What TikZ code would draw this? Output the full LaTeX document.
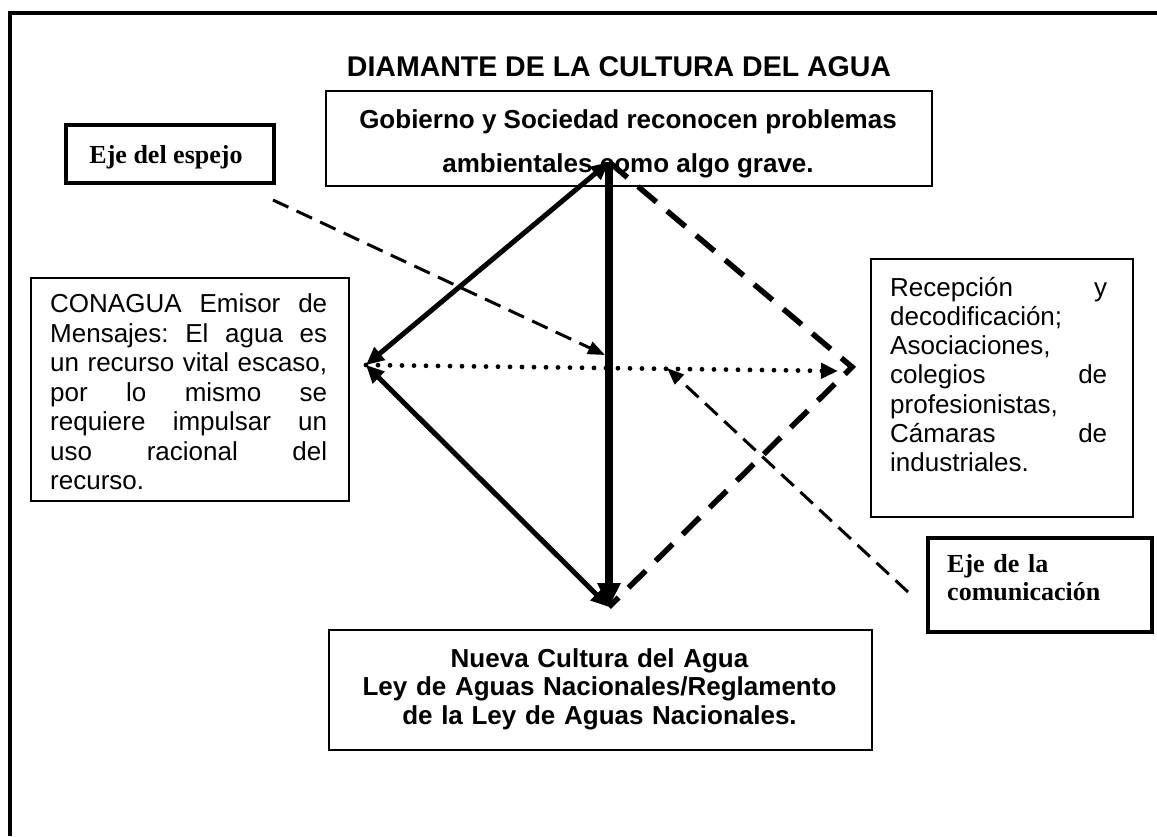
\documentclass[tikz,border=0pt]{standalone}
\usepackage{fontspec}
\setmainfont{Liberation Sans}
\newfontfamily\tnrfont{Liberation Serif}
\usetikzlibrary{arrows.meta}
\newcommand{\jsp}{\hspace{0.28em plus 1fill}}
\tikzset{
  thinbox/.style={draw, line width=1.6pt, inner sep=0pt},
  ejebox/.style={draw, line width=3.8pt, inner sep=0pt},
  bodytext/.style={font=\fontsize{26}{29.5}\selectfont, inner sep=0pt, align=left},
  boldtext/.style={font=\bfseries\fontsize{26}{28.5}\selectfont, inner sep=0pt},
  ejetext/.style={font=\tnrfont\bfseries\fontsize{26}{28}\selectfont, inner sep=0pt, align=left},
  solidarrow/.style={line width=5pt, {Triangle[length=18pt,width=16pt]}-{Triangle[length=18pt,width=16pt]}},
  mainshaft/.style={line width=7.5pt, -{Triangle[length=24pt,width=22pt]}},
  bigdash/.style={line width=5.5pt, dash pattern=on 24pt off 14pt},
  dotline/.style={line width=4.8pt, dash pattern=on 0pt off 12pt, line cap=round, -{Triangle[length=17pt,width=15pt]}},
  thindash/.style={line width=3pt, dash pattern=on 17pt off 9pt, -{Triangle[length=17pt,width=13pt]}}
}
\begin{document}
\begin{tikzpicture}[x=1pt,y=-1pt]
\useasboundingbox (0,0) rectangle (1157,836);
% outer frame
\draw[line width=4.5pt] (10,836) -- (10,13) -- (1157,13);
% title
\node[font=\bfseries\fontsize{28.5}{32}\selectfont, inner sep=0pt, anchor=base] (title) at (619,76) {DIAMANTE DE LA CULTURA DEL AGUA};
% top box
\node[thinbox, minimum width=606pt, minimum height=95pt, anchor=north west] (topbox) at (325,90) {};
\node[boldtext, anchor=base] (toptextA) at (628,128) {Gobierno y Sociedad reconocen problemas};
\node[boldtext, anchor=base] (toptextB) at (628,172) {ambientales como algo grave.};
% eje del espejo
\node[ejebox, minimum width=208pt, minimum height=58pt] (espejo) at (170,154) {};
\node[ejetext, anchor=base] (espejotext) at (166,163) {Eje del espejo};
% CONAGUA box
\node[thinbox, line width=2pt, minimum width=318pt, minimum height=223pt, anchor=north west] (conabox) at (30,277) {};
\node[bodytext, text width=277pt, anchor=north west] (conatext) at (50,292) {\strut CONAGUA\jsp Emisor\jsp de\\
Mensajes:\jsp El\jsp agua\jsp es\\
un\jsp recurso\jsp vital\jsp escaso,\\
por\jsp lo\jsp mismo\jsp se\\
requiere\jsp impulsar\jsp un\\
uso\jsp racional\jsp del\\
recurso.};
% right box
\node[thinbox, line width=2pt, minimum width=262pt, minimum height=258pt, anchor=north west] (recbox) at (870,258) {};
\node[bodytext, font=\fontsize{26}{29.2}\selectfont, text width=217pt, anchor=north west] (rectext) at (890,275.6) {\strut Recepción\jsp y\\
decodificación;\\
Asociaciones,\\
colegios\jsp de\\
profesionistas,\\
Cámaras\jsp de\\
industriales.};
% eje de la comunicacion
\node[ejebox, minimum width=224pt, minimum height=94pt, anchor=north west] (comubox) at (926,536) {};
\node[ejetext, text width=195pt, anchor=north west] (comutext) at (947,552.4) {\strut Eje de la\\comunicación};
% bottom box
\node[thinbox, minimum width=543pt, minimum height=120pt, anchor=north west] (botbox) at (328,629) {};
\node[boldtext, align=center, text width=543pt, anchor=north] (bottext) at (599.5,647) {\strut Nueva Cultura del Agua\\
Ley de Aguas Nacionales/Reglamento\\
de la Ley de Aguas Nacionales.};
% diamond vertices
\coordinate (vt) at (609,162);
\coordinate (vl) at (366,365);
\coordinate (vr) at (852,367);
\coordinate (vb) at (609,607);
\coordinate (dotend) at (838,371);
\coordinate (espA) at (273,200);
\coordinate (espB) at (605,355);
\coordinate (comA) at (908,592);
\coordinate (comB) at (667,368);
% connectors
\draw[bigdash] (vt) -- (vr) -- (vb);
\draw[mainshaft] (vt) -- (vb);
\draw[solidarrow] (vl) -- (vt);
\draw[solidarrow] (vl) -- (vb);
\draw[dotline] (vl) -- (dotend);
\draw[thindash] (espA) -- (espB);
\draw[thindash] (comA) -- (comB);
\end{tikzpicture}
\end{document}
